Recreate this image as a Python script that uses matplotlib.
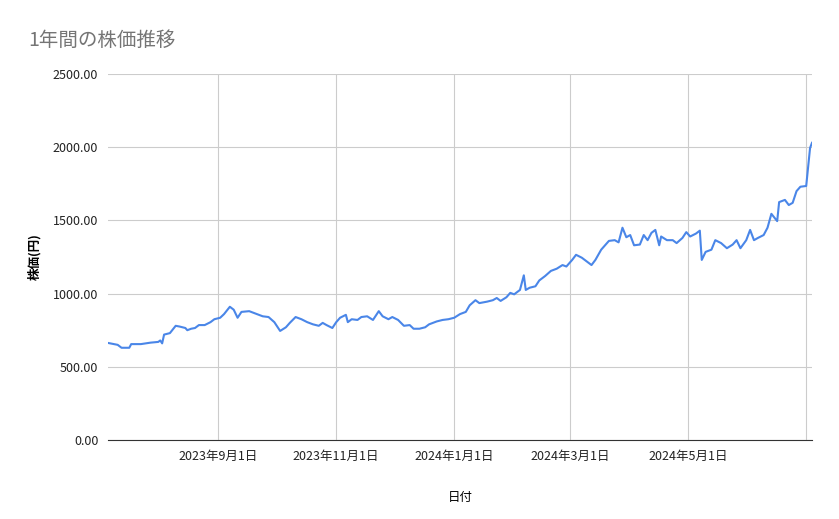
import matplotlib
matplotlib.use("Agg")
import matplotlib.pyplot as plt
import numpy as np
import datetime as dt

plt.rcParams['font.family'] = ['Noto Sans CJK JP', 'DejaVu Sans']

start = dt.date(2023, 7, 6)
# days since start, price
days = [0, 5, 7, 11, 12, 17, 22, 26, 27, 28, 29, 32, 35, 37, 40, 41, 43, 45, 47, 50, 53, 55, 58, 60,
        63, 65, 67, 69, 73, 77, 80, 83, 86, 89, 92, 94, 97, 100, 103, 106, 109, 111, 113, 116, 118,
        120, 123, 124, 126, 129, 131, 134, 137, 140, 142, 145, 147, 150, 153, 156, 158, 161, 164,
        166, 170, 173, 176, 179, 182, 185, 187, 190, 192, 196, 199, 201, 203, 206, 208, 210, 213,
        215, 216, 218, 221, 223, 226, 229, 232, 235, 237, 240, 242, 245, 248, 250, 252, 255, 259,
        262, 264, 266, 268, 270, 272, 275, 277, 279, 281, 283, 285, 286, 289, 292, 294, 297, 299,
        301, 304, 306, 307, 309, 312, 314, 317, 320, 323, 325, 327, 330, 332, 334, 336, 339, 341,
        343, 346, 347, 350, 352, 354, 356, 358, 361, 363, 364]
prices = [663, 650, 630, 630, 655, 655, 665, 670, 680, 660, 720, 730, 780, 775, 765, 750, 760, 765,
          785, 785, 805, 825, 835, 860, 910, 890, 835, 875, 880, 860, 845, 840, 805, 745, 770, 800,
          840, 825, 805, 790, 780, 800, 785, 765, 805, 835, 855, 805, 825, 820, 840, 845, 820, 880,
          845, 825, 840, 820, 780, 785, 760, 760, 770, 790, 810, 820, 825, 835, 860, 875, 920, 955,
          935, 945, 955, 970, 950, 975, 1005, 995, 1025, 1125, 1025, 1040, 1050, 1090, 1120, 1155,
          1170, 1195, 1185, 1230, 1265, 1245, 1215, 1195, 1230, 1300, 1360, 1365, 1350, 1450, 1385,
          1400, 1330, 1335, 1400, 1365, 1415, 1435, 1330, 1390, 1365, 1365, 1345, 1380, 1420, 1390,
          1410, 1430, 1230, 1285, 1300, 1365, 1345, 1310, 1335, 1365, 1310, 1365, 1435, 1365, 1380,
          1400, 1450, 1545, 1495, 1625, 1640, 1605, 1620, 1700, 1730, 1735, 1995, 2030]
tick_dates = [dt.date(2023, 9, 1), dt.date(2023, 11, 1), dt.date(2024, 1, 1),
              dt.date(2024, 3, 1), dt.date(2024, 5, 1)]
tick_labels = [f"{d.year}年{d.month}月{d.day}日" for d in tick_dates]

x = [start + dt.timedelta(days=d) for d in days]

fig = plt.figure(figsize=(8.39, 5.19), dpi=100)
ax = fig.add_axes([108/839, 1-440/519, (812-108)/839, (440-74)/519])
ax.plot(x, prices, color='#4a86e8', lw=1.5)

ax.set_xlim(start, start + dt.timedelta(days=364))
ax.set_ylim(0, 2500)
ax.set_yticks(np.arange(0, 2501, 500))
ax.set_yticklabels([f"{v:.2f}" for v in range(0, 2501, 500)])
ax.set_xticks(tick_dates)
ax.set_xticklabels(tick_labels)
ax.set_xticks([dt.date(2024, 7, 1)], minor=True)
ax.grid(True, which='both', color='#cccccc', lw=0.8)
ax.set_axisbelow(True)
ax.tick_params(which='both', length=0, labelsize=9, colors='#222222', pad=7)
for s in ['top', 'right', 'left']:
    ax.spines[s].set_visible(False)
ax.spines['bottom'].set_color('#333333')

ax.set_xlabel("日付", fontsize=9, labelpad=20)
ax.set_ylabel("株価(円)", fontsize=9, fontweight='bold', labelpad=8)
fig.text(28/839, 1-40/519, "1年間の株価推移", fontsize=14, color='#757575', va='center')

fig.savefig("out.png", dpi=100)
